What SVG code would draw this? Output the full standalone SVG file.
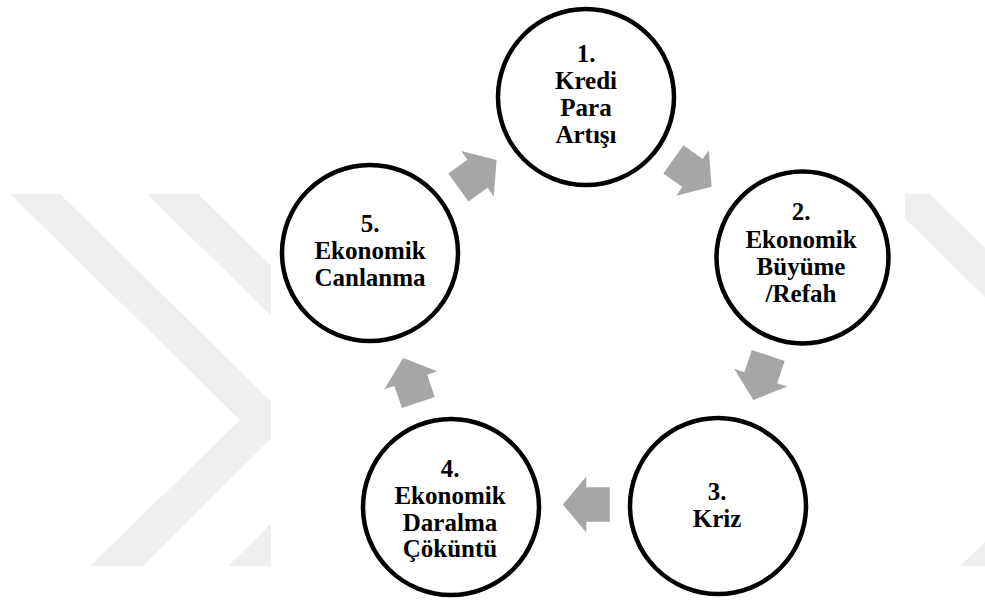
<svg xmlns="http://www.w3.org/2000/svg" xmlns:xlink="http://www.w3.org/1999/xlink" width="985" height="601" viewBox="0 0 985 601">
<style>
.wm{fill:#efefef}
.node circle{fill:#ffffff;stroke:#000000;stroke-width:4.5}
.node text{font-family:"Liberation Serif","Times New Roman",serif;font-weight:bold;font-size:25px;fill:#000000;text-anchor:middle}
.arr{fill:#a6a6a6}
</style>
<defs>
<path id="blockArrow" d="M-23.5,-17.3 L0,-17.3 L0,-28 L23.5,0 L0,28 L0,17.3 L-23.5,17.3 Z"/>
<clipPath id="leftClip"><rect x="0" y="0" width="271" height="601"/></clipPath>
<clipPath id="rightClip"><rect x="905" y="0" width="80" height="601"/></clipPath>
</defs>
<rect x="0" y="0" width="985" height="601" fill="#ffffff"/>
<g id="watermark">
<g clip-path="url(#leftClip)">
<polygon class="wm" points="10,194 60,194 290,420 143,566 90,566 240,420"/>
<polygon class="wm" points="147,194 198,194 428,420 281,566 228,566 377,420"/>
</g>
<g clip-path="url(#rightClip)">
<polygon class="wm" points="880,194 930,194 1160,420 1013,566 960,566 1110,420"/>
</g>
</g>
<g id="connectors">
<use xlink:href="#blockArrow" class="arr" transform="translate(692.5,173) rotate(35.6)"/>
<use xlink:href="#blockArrow" class="arr" transform="translate(760.8,377.7) rotate(108.5)"/>
<use xlink:href="#blockArrow" class="arr" transform="translate(586.3,504.5) rotate(180)"/>
<use xlink:href="#blockArrow" class="arr" transform="translate(410.8,380.3) rotate(-108.8)"/>
<use xlink:href="#blockArrow" class="arr" transform="translate(477.5,173.8) rotate(-35.6)"/>
</g>
<g id="node1" class="node">
<circle cx="586" cy="97" r="88"/>
<text x="586" y="62">1.</text>
<text x="586" y="89">Kredi</text>
<text x="586" y="116">Para</text>
<text x="586" y="143">Artışı</text>
</g>
<g id="node2" class="node">
<circle cx="802.5" cy="257.5" r="86"/>
<text x="801" y="220">2.</text>
<text x="801" y="248">Ekonomik</text>
<text x="801" y="275">Büyüme</text>
<text x="801" y="302">/Refah</text>
</g>
<g id="node3" class="node">
<circle cx="718" cy="506" r="88"/>
<text x="717" y="500">3.</text>
<text x="717" y="527">Kriz</text>
</g>
<g id="node4" class="node">
<circle cx="451" cy="507" r="88"/>
<text x="450" y="477">4.</text>
<text x="450" y="504">Ekonomik</text>
<text x="450" y="531">Daralma</text>
<text x="450" y="557">Çöküntü</text>
</g>
<g id="node5" class="node">
<circle cx="370" cy="253" r="88"/>
<text x="370" y="232">5.</text>
<text x="370" y="259">Ekonomik</text>
<text x="370" y="286">Canlanma</text>
</g>
</svg>
